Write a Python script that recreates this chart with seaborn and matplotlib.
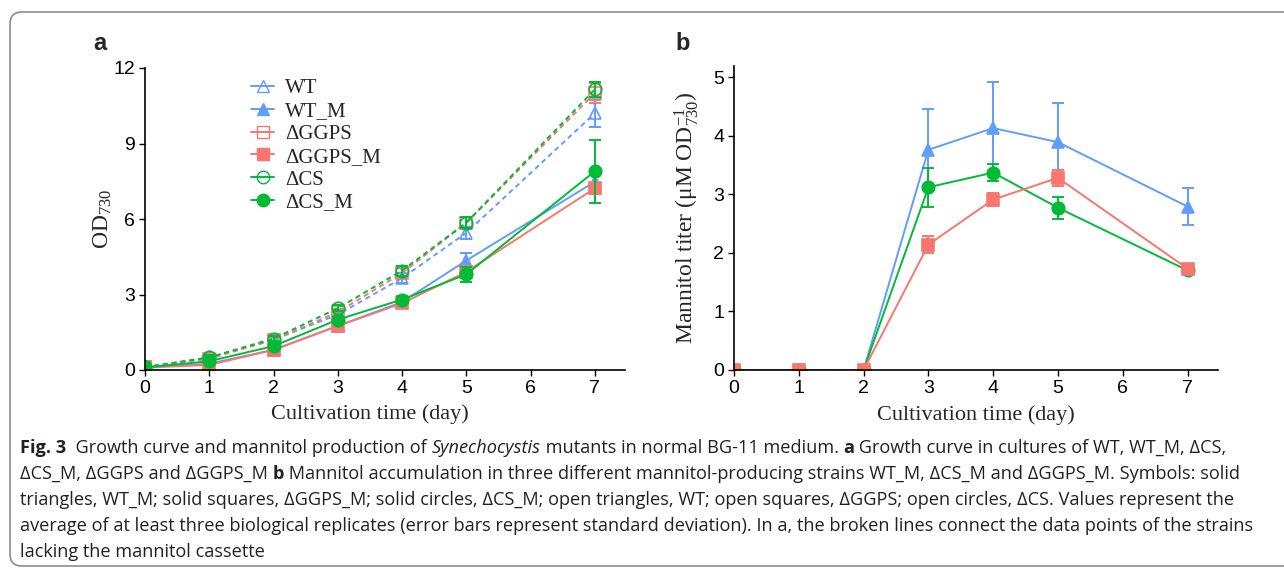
import matplotlib
matplotlib.use('Agg')
import matplotlib.pyplot as plt
import seaborn as sns
from matplotlib.patches import FancyBboxPatch
from matplotlib.lines import Line2D
from matplotlib.transforms import IdentityTransform

# ---- data ----
days = [0, 1, 2, 3, 4, 5, 7]

# panel a : OD730
wt = [0.10, 0.50, 1.20, 2.20, 3.65, 5.45, 10.20]
wt_err = [0.03, 0.08, 0.10, 0.12, 0.20, 0.25, 0.53]
wt_m = [0.10, 0.25, 0.80, 1.75, 2.70, 4.35, 7.48]
wt_m_err = [0.03, 0.05, 0.08, 0.12, 0.15, 0.30, 0.25]
ggps = [0.10, 0.45, 1.20, 2.30, 3.85, 5.85, 11.00]
ggps_err = [0.03, 0.08, 0.10, 0.12, 0.20, 0.22, 0.40]
ggps_m = [0.10, 0.20, 0.80, 1.75, 2.65, 3.90, 7.22]
ggps_m_err = [0.03, 0.05, 0.08, 0.10, 0.15, 0.25, 0.22]
cs = [0.12, 0.50, 1.25, 2.45, 3.95, 5.85, 11.15]
cs_err = [0.03, 0.08, 0.10, 0.12, 0.20, 0.22, 0.30]
cs_m = [0.10, 0.35, 0.95, 2.00, 2.80, 3.80, 7.90]
cs_m_err = [0.03, 0.05, 0.08, 0.12, 0.15, 0.30, 1.25]

# panel b : mannitol titer
wt_m_b = [0, 0, 0, 3.76, 4.13, 3.89, 2.79]
wt_m_b_err = [0, 0, 0, 0.69, 0.79, 0.66, 0.32]
ggps_m_b = [0, 0, 0, 2.14, 2.91, 3.28, 1.73]
ggps_m_b_err = [0, 0, 0, 0.15, 0.11, 0.14, 0.05]
cs_m_b = [0, 0, 0, 3.12, 3.37, 2.77, 1.70]
cs_m_b_err = [0, 0, 0, 0.33, 0.15, 0.19, 0.05]

BLUE = '#619CFF'
RED = '#F8766D'
GREEN = '#00BA38'

sns.set_theme(style='ticks')
plt.rcParams['font.family'] = ['Liberation Sans', 'DejaVu Sans']
plt.rcParams['mathtext.fontset'] = 'custom'
plt.rcParams['mathtext.rm'] = 'Liberation Serif'
plt.rcParams['mathtext.it'] = 'Liberation Serif:italic'
SERIF = ['Liberation Serif', 'DejaVu Serif']

W, H = 1284, 576
fig = plt.figure(figsize=(W / 100, H / 100), dpi=100)

ax_a = fig.add_axes([145 / W, (H - 370) / H, 480 / W, 302 / H])
ax_b = fig.add_axes([734 / W, (H - 370) / H, 484 / W, 304 / H])


def draw(ax, y, err, color, marker, open_marker, dashed, label):
    sns.lineplot(x=days, y=y, ax=ax, color=color, marker=marker,
                 markersize=9 if marker != 's' else 8,
                 markerfacecolor='none' if open_marker else color,
                 markeredgecolor=color, markeredgewidth=1.2,
                 linewidth=1.4, linestyle=(0, (2.6, 2.0)) if dashed else '-',
                 label=label, legend=False)
    ax.errorbar(days, y, yerr=err, fmt='none', ecolor=color,
                elinewidth=1.4, capsize=4.5, capthick=1.4)


# ---- panel a ----
series_a = [
    (wt, wt_err, BLUE, '^', True, True, 'WT'),
    (wt_m, wt_m_err, BLUE, '^', False, False, 'WT_M'),
    (ggps, ggps_err, RED, 's', True, True, '\u0394GGPS'),
    (ggps_m, ggps_m_err, RED, 's', False, False, '\u0394GGPS_M'),
    (cs, cs_err, GREEN, 'o', True, True, '\u0394CS'),
    (cs_m, cs_m_err, GREEN, 'o', False, False, '\u0394CS_M'),
]
for s in series_a:
    draw(ax_a, *s)

handles = [Line2D([], [], color=c, marker=m, markersize=9 if m != 's' else 8,
                  markerfacecolor='none' if o else c, markeredgecolor=c,
                  linewidth=1.4)
           for (_, _, c, m, o, _, _) in series_a]
labels = [s[-1] for s in series_a]
ax_a.legend(handles, labels, loc='upper left', bbox_to_anchor=(0.2, 1.0),
            frameon=False, prop={'family': SERIF, 'size': 15},
            handlelength=1.1, handletextpad=0.5, labelspacing=0.16,
            borderpad=0)

ax_a.set_xlim(0, 7.47)
ax_a.set_ylim(0, 12)
ax_a.set_yticks([0, 3, 6, 9, 12])
ax_a.set_ylabel('OD$_{730}$', family=SERIF, fontsize=17)
ax_a.yaxis.set_label_coords(-0.064, 0.5)

# ---- panel b ----
draw(ax_b, wt_m_b, wt_m_b_err, BLUE, '^', False, False, 'WT_M')
draw(ax_b, cs_m_b, cs_m_b_err, GREEN, 'o', False, False, '\u0394CS_M')
draw(ax_b, ggps_m_b, ggps_m_b_err, RED, 's', False, False, '\u0394GGPS_M')

ax_b.set_xlim(0, 7.47)
ax_b.set_ylim(0, 5.19)
ax_b.set_yticks([0, 1, 2, 3, 4, 5])
ax_b.set_ylabel('Mannitol titer (\u03bcM OD$_{730}^{-1}$)', family=SERIF,
                fontsize=17)
ax_b.yaxis.set_label_coords(-0.068, 0.5)

for ax in (ax_a, ax_b):
    sns.despine(ax=ax)
    ax.set_xticks([0, 1, 2, 3, 4, 5, 6, 7])
    ax.set_xlabel('Cultivation time (day)', family=SERIF, fontsize=16)
    ax.tick_params(labelsize=14, length=4, width=1, colors='black',
                   pad=3)
    for sp in ('left', 'bottom'):
        ax.spines[sp].set_color('black')
        ax.spines[sp].set_linewidth(1.2)
ax_a.xaxis.set_label_coords((370 - 145) / 480, -0.115)
ax_b.xaxis.set_label_coords(0.5, -0.115)

fig.text(93 / W, (H - 50) / H, 'a', fontsize=17, fontweight='bold')
fig.text(675 / W, (H - 50) / H, 'b', fontsize=17, fontweight='bold')

# ---- frame ----
frame = FancyBboxPatch((10, 10), 1400, 554,
                       boxstyle='round,pad=0,rounding_size=12',
                       transform=IdentityTransform(), fill=False,
                       edgecolor='#8c8c8c', linewidth=1.2)
fig.add_artist(frame)

# ---- caption ----
CAP_FAMILY = ['Open Sans', 'DejaVu Sans']
CAP_SIZE = 13.1
cap_lines = [
    [('Fig. 3', 'bold', 'normal'),
     ('  Growth curve and mannitol production of ', 'normal', 'normal'),
     ('Synechocystis', 'normal', 'italic'),
     (' mutants in normal BG-11 medium. ', 'normal', 'normal'),
     ('a', 'bold', 'normal'),
     (' Growth curve in cultures of WT, WT_M, \u0394CS,', 'normal', 'normal')],
    [('\u0394CS_M, \u0394GGPS and \u0394GGPS_M ', 'normal', 'normal'),
     ('b', 'bold', 'normal'),
     (' Mannitol accumulation in three different mannitol-producing strains '
      'WT_M, \u0394CS_M and \u0394GGPS_M. Symbols: solid', 'normal', 'normal')],
    [('triangles, WT_M; solid squares, \u0394GGPS_M; solid circles, \u0394CS_M; '
      'open triangles, WT; open squares, \u0394GGPS; open circles, \u0394CS. '
      'Values represent the', 'normal', 'normal')],
    [('average of at least three biological replicates (error bars represent '
      'standard deviation). In a, the broken lines connect the data points of '
      'the strains', 'normal', 'normal')],
    [('lacking the mannitol cassette', 'normal', 'normal')],
]
cap_y = [448, 474, 500, 526, 552]

renderer = fig.canvas.get_renderer()
for segs, yy in zip(cap_lines, cap_y):
    x = 20
    for txt, wgt, sty in segs:
        t = fig.text(x / W, (H - yy) / H, txt, fontsize=CAP_SIZE,
                     family=CAP_FAMILY, fontweight=wgt, fontstyle=sty,
                     va='center', ha='left', color='#231f20')
        x += t.get_window_extent(renderer).width

fig.savefig('out.png', dpi=100)
